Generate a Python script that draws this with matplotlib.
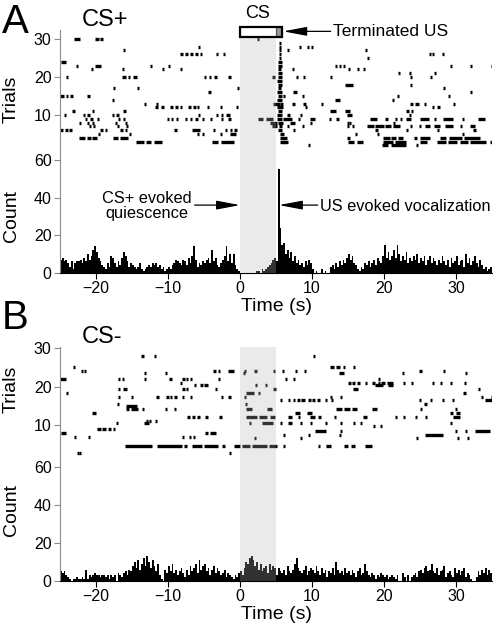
import matplotlib.pyplot as plt
import numpy as np
from matplotlib.patches import Rectangle
from matplotlib.transforms import blended_transform_factory

plt.rcParams['font.family'] = ['Liberation Sans', 'DejaVu Sans']

# histogram: counts in 0.25 s bins from -25 s to 35 s (one row = 5 s)
bin_start = -25.0
bin_width = 0.25
hist_a = [
    7, 8, 6, 7, 5, 3, 6, 2, 5, 6, 6, 7, 5, 8, 6, 10, 7, 9, 12, 14,      # -25..-20
    11, 8, 6, 4, 3, 2, 5, 3, 9, 8, 5, 3, 6, 4, 8, 11, 9, 6, 3, 5,       # -20..-15
    4, 3, 2, 3, 5, 2, 1, 2, 3, 4, 3, 5, 4, 5, 3, 4, 2, 3, 1, 2,         # -15..-10
    3, 2, 4, 5, 7, 6, 5, 4, 7, 6, 4, 8, 5, 9, 14, 7, 3, 5, 4, 6,        # -10..-5
    5, 7, 8, 5, 12, 6, 8, 4, 3, 5, 7, 9, 14, 6, 10, 5, 10, 4, 2, 1,     # -5..0
    0, 0, 0, 0, 0, 0, 0, 0, 0, 1, 1, 0, 2, 1, 2, 3, 4, 5, 7, 8,         # 0..5
    6, 55, 24, 15, 16, 10, 12, 8, 11, 6, 9, 5, 7, 4, 5, 3, 6, 4, 7, 5,  # 5..10
    2, 0, 1, 0, 0, 2, 0, 1, 0, 0, 3, 4, 2, 5, 3, 6, 4, 7, 5, 8,         # 10..15
    10, 7, 9, 5, 4, 2, 1, 3, 2, 5, 4, 6, 3, 5, 7, 4, 8, 6, 5, 9,        # 15..20
    15, 8, 11, 7, 9, 12, 8, 15, 10, 6, 9, 7, 11, 5, 8, 6, 9, 7, 10, 5,  # 20..25
    8, 6, 9, 4, 7, 9, 5, 8, 6, 4, 7, 5, 9, 6, 4, 7, 3, 8, 5, 6,         # 25..30
    9, 4, 6, 7, 3, 10, 5, 8, 4, 6, 9, 5, 3, 7, 4, 2, 3, 1, 2, 3,        # 30..35
]
hist_b = [
    5, 4, 5, 3, 2, 1, 0, 1, 1, 2, 1, 1, 2, 1, 6, 1, 3, 2, 3, 4,         # -25..-20
    3, 3, 2, 3, 3, 2, 3, 1, 3, 2, 3, 0, 4, 3, 2, 4, 5, 3, 6, 5,         # -20..-15
    8, 10, 7, 11, 6, 9, 12, 8, 13, 10, 7, 11, 8, 5, 9, 3, 1, 0, 6, 4,   # -15..-10
    8, 5, 9, 4, 6, 3, 5, 7, 4, 2, 6, 3, 8, 5, 7, 9, 4, 11, 6, 8,        # -10..-5
    9, 5, 7, 3, 6, 8, 4, 7, 5, 3, 4, 6, 2, 4, 3, 2, 1, 3, 2, 4,         # -5..0
    5, 3, 7, 10, 9, 12, 13, 11, 8, 10, 6, 9, 5, 7, 8, 4, 9, 6, 8, 7,    # 0..5
    3, 7, 5, 4, 6, 3, 8, 5, 4, 6, 9, 12, 7, 5, 4, 6, 8, 3, 5, 7,        # 5..10
    6, 4, 8, 5, 3, 7, 4, 6, 2, 5, 4, 7, 3, 10, 6, 4, 5, 3, 7, 4,        # 10..15
    5, 3, 6, 4, 2, 5, 7, 3, 4, 9, 5, 3, 2, 4, 3, 1, 3, 2, 4, 3,         # 15..20
    2, 3, 1, 2, 3, 2, 1, 3, 0, 0, 4, 2, 0, 3, 0, 2, 3, 4, 2, 5,         # 20..25
    6, 4, 7, 8, 5, 6, 9, 5, 4, 7, 3, 5, 6, 8, 2, 4, 5, 3, 2, 7,         # 25..30
    4, 6, 3, 5, 7, 2, 4, 3, 1, 0, 0, 2, 5, 3, 6, 4, 7, 3, 6, 4,         # 30..35
]

# raster events: (trial, start time, end time)
events_a = [
    (30, -23.0, -22.2), (30, -20.1, -19.6), (30, -19.4, -19.0), (30, 2.3, 2.45),
    (28, -5.9, -5.75), (28, 8.2, 8.35), (28, 9.3, 9.45), (28, 9.8, 10.0),
    (27, -16.3, -16.1), (27, 6.5, 6.65), (27, 17.4, 17.6),
    (26, -8.3, -7.9), (26, -7.6, -7.2), (26, -6.9, -6.5), (26, -6.2, -5.8), (26, -5.6, -5.3),
    (26, -3.4, -3.25), (26, -2.3, -2.15), (26, 26.2, 26.5), (26, 26.7, 26.9), (26, 28.0, 28.15),
    (25, 17.6, 17.75),
    (24, -24.8, -24.2),
    (23, -22.8, -22.65), (23, -20.1, -19.3), (23, -12.5, -12.35), (23, -10.0, -9.85),
    (23, 13.2, 13.4), (23, 13.7, 13.9), (23, 14.3, 14.5), (23, 29.2, 29.4), (23, 32.0, 32.15),
    (23, 34.8, 34.95),
    (22, -20.7, -20.4), (22, -16.4, -16.25), (22, -10.9, -10.6), (22, -8.3, -8.0), (22, 7.2, 7.5),
    (22, 15.0, 15.15), (22, 16.2, 16.45), (22, 17.1, 17.25),
    (21, 22.0, 22.15), (21, 23.4, 23.55), (21, 26.9, 27.05),
    (20, -24.2, -23.9), (20, -16.4, -15.9), (20, -15.6, -15.3), (20, -14.8, -14.3),
    (20, -5.0, -4.7), (20, -4.3, -4.0), (20, -3.6, -3.2), (20, -1.6, -1.3), (20, 4.5, 4.9),
    (20, 7.8, 7.95), (20, 8.8, 8.95), (20, 12.5, 12.65), (20, 23.6, 23.75), (20, 26.4, 26.55),
    (18, 14.6, 15.7), (18, 23.6, 23.75),
    (17, -17.7, -17.4), (17, -14.3, -14.15), (17, -0.4, -0.1), (17, 28.2, 28.35),
    (16, -4.4, -4.0), (16, 7.4, 7.9), (16, 32.0, 32.15),
    (15, -25.0, -24.4), (15, -24.2, -23.9), (15, -23.6, -23.2), (15, -21.2, -20.9), (15, 6.0, 6.15),
    (15, 8.6, 8.75), (15, 21.8, 21.95), (15, 28.9, 29.1),
    (14, -17.8, -17.65), (14, 13.2, 13.9), (14, 21.1, 21.4),
    (13, -13.3, -13.15), (13, -11.7, -11.4), (13, 4.6, 5.5), (13, 7.2, 7.6), (13, 8.8, 9.2),
    (13, 11.3, 11.45), (13, 23.6, 24.0), (13, 24.3, 24.8), (13, 25.5, 25.65), (13, 29.6, 29.75),
    (12, -11.8, -11.4), (12, -11.0, -10.6), (12, -9.7, -9.3), (12, -9.0, -8.6), (12, -8.4, -8.1),
    (12, -7.2, -6.8), (12, -6.5, -6.1), (12, -6.0, -5.8), (12, -4.6, -4.4), (12, -2.8, -2.5),
    (12, -0.5, -0.35), (12, 9.0, 9.15), (12, 26.6, 27.0), (12, 27.4, 27.8),
    (11, -23.3, -22.9), (11, -20.5, -20.3), (11, -16.2, -15.9), (11, 12.5, 13.4), (11, 14.6, 15.3),
    (11, 23.1, 23.4), (11, 23.7, 24.0),
    (10, -24.5, -24.3), (10, -21.8, -21.6), (10, -21.3, -20.8), (10, -17.8, -17.5), (10, -17.2, -16.8),
    (10, -5.9, -5.75), (10, -3.3, -3.0), (10, -2.6, -2.3), (10, -1.9, -1.4), (10, 6.5, 6.9),
    (10, 8.3, 8.45), (10, 14.8, 15.5), (10, 23.4, 23.55),
    (9, -21.5, -21.3), (9, -20.8, -20.4), (9, -19.8, -19.6), (9, -17.0, -16.8), (9, -16.3, -16.0),
    (9, -10.2, -9.9), (9, -9.6, -9.3), (9, -8.9, -8.6), (9, -7.6, -7.3), (9, -6.9, -6.6),
    (9, -6.2, -5.9), (9, -5.3, -5.0), (9, -4.2, -3.9), (9, -2.6, -2.3), (9, -1.6, -1.3),
    (9, 2.5, 3.2), (9, 3.6, 4.6), (9, 6.0, 7.2), (9, 8.1, 8.25), (9, 9.7, 10.4), (9, 12.3, 12.45),
    (9, 13.4, 13.55), (9, 18.0, 19.0), (9, 20.1, 20.6), (9, 21.5, 21.65), (9, 22.2, 22.35),
    (9, 23.1, 23.8), (9, 25.0, 26.2), (9, 26.9, 27.05), (9, 28.2, 29.6), (9, 30.8, 30.95),
    (9, 33.1, 34.0),
    (8, -22.3, -22.1), (8, -21.3, -21.1), (8, -20.6, -20.3), (8, -17.4, -17.2), (8, -16.0, -15.8),
    (8, 4.2, 5.1), (8, 6.9, 7.6), (8, 9.7, 9.85), (8, 14.8, 15.0), (8, 15.2, 15.35), (8, 21.3, 21.45),
    (7, -21.0, -20.8), (7, -20.4, -20.2), (7, -17.1, -16.9), (7, -15.9, -15.7), (7, 4.4, 5.1),
    (7, 6.5, 6.65), (7, 8.6, 8.75), (7, 14.8, 15.0), (7, 15.5, 15.65), (7, 17.6, 18.6),
    (7, 18.8, 20.0), (7, 20.2, 21.0), (7, 21.2, 22.2), (7, 23.6, 23.85), (7, 24.8, 24.95),
    (7, 25.7, 26.4), (7, 26.9, 27.8), (7, 28.5, 29.6), (7, 30.6, 30.75), (7, 31.9, 32.6),
    (6, -25.0, -24.6), (6, -24.3, -23.9), (6, -23.7, -23.4), (6, -19.4, -19.0), (6, -18.8, -18.5),
    (6, -16.7, -16.3), (6, -16.0, -15.7), (6, -9.2, -8.8), (6, -6.7, -5.6), (6, -3.7, -3.5),
    (6, -2.1, -1.8), (6, -1.4, -1.1), (6, -0.8, -0.4), (6, 5.3, 5.8), (6, 7.4, 7.55),
    (6, 18.8, 19.2), (6, 23.1, 23.25), (6, 27.3, 27.45), (6, 32.4, 32.8),
    (5, -19.7, -19.4), (5, -15.4, -15.1), (5, -6.0, -5.85), (5, -5.3, -5.0), (5, -2.8, -2.6),
    (5, -1.4, -0.6), (5, 5.8, 5.95), (5, 16.0, 16.15), (5, 19.0, 19.15), (5, 30.8, 30.95),
    (4, -22.4, -21.5), (4, -21.3, -20.7), (4, -20.5, -19.9), (4, -17.7, -16.9), (4, -16.6, -15.6),
    (4, 5.6, 6.5), (4, 14.8, 15.3), (4, 19.9, 20.8), (4, 21.0, 21.6), (4, 22.0, 22.7),
    (4, 24.1, 24.6), (4, 25.0, 26.4), (4, 27.8, 28.6), (4, 29.0, 30.8), (4, 31.1, 33.3),
    (3, -14.4, -13.4), (3, -13.1, -12.3), (3, -12.0, -10.9), (3, -3.9, -3.0), (3, -2.7, -0.9),
    (3, 6.0, 6.7), (3, 15.0, 15.9), (3, 16.3, 17.1), (3, 19.9, 21.2), (3, 21.5, 23.1),
    (3, 25.0, 25.9), (3, 27.3, 28.6), (3, 28.9, 30.2), (3, 30.5, 31.6), (3, 32.0, 34.2),
    (3, 34.7, 34.85),
    (2, 9.5, 9.65), (2, 19.7, 20.6), (2, 21.0, 23.1), (2, 24.5, 24.65),
    # vocal response right after the US
    (29, 5.4, 5.6), (28, 5.45, 5.6), (27, 5.4, 5.65), (26, 5.4, 5.7), (25, 5.35, 5.7),
    (24, 5.3, 5.8), (23, 5.3, 5.8), (22, 5.3, 5.7), (21, 5.3, 5.8), (20, 5.3, 5.9),
    (19, 5.2, 5.9), (18, 5.3, 5.8), (17, 5.25, 5.75), (16, 5.2, 5.8), (15, 5.3, 5.9),
    (14, 5.2, 5.9), (13, 5.6, 6.0), (12, 5.2, 6.0), (11, 5.3, 5.8), (10, 5.2, 5.9),
    (9, 5.2, 5.8), (8, 5.3, 6.0), (7, 5.4, 5.9), (5, 5.5, 6.0), (3, 5.6, 6.2),
]

events_b = [
    (28, -13.8, -13.4), (28, -11.9, -11.75), (28, 10.2, 10.35),
    (25, -23.2, -23.05), (25, 12.5, 13.0), (25, 13.4, 13.9), (25, 14.3, 14.45), (25, 15.7, 15.85),
    (24, -22.1, -21.95), (24, -21.7, -21.55), (24, -3.7, -3.3), (24, -3.1, -2.8), (24, -1.7, -0.9),
    (24, 0.6, 0.75), (24, 1.9, 2.3), (24, 4.6, 4.75), (24, 5.8, 6.1), (24, 7.6, 7.8),
    (24, 8.9, 9.05), (24, 24.9, 25.3), (24, 28.2, 28.35),
    (23.4, -13.4, -13.25), (23.4, -10.4, -10.2), (23.4, 0.4, 0.55), (23.4, 13.7, 14.4),
    (23.4, 22.5, 22.65), (23.4, 31.3, 31.45),
    (22, -25.0, -24.2), (22, -16.9, -16.75), (22, -16.4, -16.25), (22, -13.4, -13.1),
    (22, -9.8, -9.5), (22, -8.0, -7.7), (22, -7.5, -7.3), (22, -6.9, -6.6), (22, -3.0, -2.85),
    (22, 6.2, 6.5), (22, 7.4, 7.55), (22, 19.2, 19.35),
    (21, -8.3, -8.15), (21, 15.0, 15.4), (21, 15.6, 16.0), (21, 16.3, 16.7), (21, 17.4, 17.55),
    (21, 18.3, 18.7), (21, 19.1, 19.3), (21, 19.6, 20.1), (21, 20.4, 21.3), (21, 22.7, 22.85),
    (21, 23.8, 23.95), (21, 26.6, 26.75), (21, 27.8, 27.95), (21, 29.2, 29.35), (21, 31.1, 31.25),
    (20.3, -6.4, -6.1), (20.3, -5.5, -5.2), (20.3, -5.0, -4.5), (20.3, 2.1, 2.25), (20.3, 3.5, 3.65),
    (20.3, 18.8, 19.9), (20.3, 20.6, 21.3),
    (19.3, -16.9, -16.6), (19.3, -16.2, -15.7), (19.3, -8.0, -7.7), (19.3, -7.5, -7.3),
    (19.3, -3.5, -3.35), (19.3, 4.6, 5.0), (19.3, 15.7, 16.4), (19.3, 33.1, 33.25),
    (18.2, -24.2, -23.9), (18.2, 0.9, 1.9), (18.2, 2.5, 2.65), (18.2, 31.0, 31.4),
    (17.2, -16.9, -16.75), (17.2, -15.2, -15.0), (17.2, -11.6, -11.3), (17.2, -10.3, -9.9),
    (17.2, -9.7, -9.4), (17.2, -9.1, -8.7), (17.2, -8.0, -7.85), (17.2, -6.9, -6.75),
    (17.2, -2.6, -2.3), (17.2, -1.6, -1.4), (17.2, 0.5, 0.65), (17.2, 12.5, 12.65),
    (17.2, 13.9, 14.05), (17.2, 33.4, 33.8), (17.2, 34.8, 34.95),
    (16.4, 5.5, 5.65), (16.4, 6.7, 7.0), (16.4, 7.4, 7.7), (16.4, 7.9, 8.3), (16.4, 8.5, 9.0),
    (16.4, 9.5, 9.8), (16.4, 10.0, 10.4), (16.4, 10.7, 11.1), (16.4, 11.8, 11.95),
    (16.4, 12.7, 12.85), (16.4, 24.8, 25.2), (16.4, 26.4, 26.55), (16.4, 28.0, 28.15),
    (16.4, 29.4, 29.55), (16.4, 34.0, 35.0),
    (15.5, -17.1, -16.95), (15.5, 0.7, 0.85), (15.5, 25.5, 25.9),
    (15, -15.9, -14.3),
    (14.2, -15.9, -15.4), (14.2, -15.2, -14.1), (14.2, -13.6, -13.3), (14.2, -10.4, -10.1),
    (14.2, -9.2, -9.05), (14.2, 0.9, 1.6), (14.2, 3.7, 4.4), (14.2, 13.4, 14.2), (14.2, 14.5, 15.3),
    (14.2, 15.6, 16.2), (14.2, 18.3, 19.0), (14.2, 25.0, 25.15), (14.2, 29.9, 30.05),
    (13, -20.5, -20.0), (13, 7.6, 8.3), (13, 9.3, 10.0), (13, 29.2, 29.6), (13, 30.0, 30.6),
    (12, -7.4, -6.9), (12, -6.6, -6.3), (12, -6.0, -5.6), (12, -4.8, -4.4), (12, -2.9, -2.5),
    (12, 0.9, 2.3), (12, 2.6, 3.8), (12, 4.1, 4.9), (12, 6.7, 7.2), (12, 8.1, 8.25),
    (12, 9.7, 10.4), (12, 10.9, 11.05), (12, 13.0, 13.15), (12, 17.1, 17.6), (12, 21.5, 21.65),
    (12, 22.7, 22.85), (12, 24.3, 24.45), (12, 25.7, 25.85), (12, 29.6, 30.6),
    (11, -13.1, -12.9), (11, -12.7, -12.3), (11, -11.8, -11.6),
    (10.5, -17.2, -17.05), (10.5, -13.4, -12.6), (10.5, 1.2, 1.4), (10.5, 3.0, 4.6),
    (10.5, 5.6, 5.75), (10.5, 6.7, 7.2), (10.5, 8.3, 8.45), (10.5, 9.7, 9.85), (10.5, 11.8, 11.95),
    (10.5, 13.9, 14.05), (10.5, 15.7, 15.85), (10.5, 16.7, 16.85), (10.5, 29.2, 29.35),
    (9.7, 18.5, 18.65), (9.7, 19.4, 19.55),
    (9, -19.8, -19.3), (9, -19.1, -18.6), (9, -18.4, -17.9), (9, -17.7, -17.5),
    (8.5, 10.4, 12.0), (8.5, 13.9, 14.05), (8.5, 29.9, 30.05), (8.5, 31.3, 31.45), (8.5, 32.6, 34.7),
    (8, -24.8, -24.2), (8, -4.8, -4.4), (8, -4.1, -3.4),
    (7.4, 6.0, 6.2), (7.4, 9.5, 9.65), (7.4, 13.7, 13.85), (7.4, 25.7, 28.2),
    (7, -23.1, -22.95), (7, -21.1, -20.95), (7, -8.1, -7.95), (7, -7.1, -6.9), (7, -6.5, -6.35),
    (6.6, 1.9, 2.05), (6.6, 8.3, 8.45), (6.6, 24.5, 24.65), (6.6, 30.1, 30.25), (6.6, 31.5, 31.65),
    (4.5, -15.97, -12.27), (4.5, -11.57, -8.1), (4.5, -7.8, -7.4), (4.5, -6.7, -5.3),
    (4.5, -5.0, -3.0), (4.5, -2.5, -2.1), (4.5, -0.9, 0.0), (4.5, 0.3, 1.4), (4.5, 1.7, 3.8),
    (4.5, 4.0, 5.1), (4.5, 6.0, 6.3), (4.5, 10.8, 11.0), (4.5, 12.0, 12.7), (4.5, 14.4, 15.0),
    (4.5, 15.4, 16.0), (4.5, 17.4, 18.3),
    (2.8, -22.6, -22.45), (2.8, -22.3, -22.15), (2.8, -1.5, -1.35),
]

cs_on, cs_off, us_off = 0.0, 5.0, 5.9
xticks = [-20, -10, 0, 10, 20, 30]

fig = plt.figure(figsize=(4.98, 6.3), dpi=100)
left, width = 0.1205, 0.8675
ax_ra = fig.add_axes([left, 0.746, width, 0.2063])
ax_ca = fig.add_axes([left, 0.5671, width, 0.1789])
ax_rb = fig.add_axes([left, 0.2587, width, 0.1905])
ax_cb = fig.add_axes([left, 0.0778, width, 0.181])

spine_grey = '0.55'


def style_raster(ax, events, ylim, shade_top, label_y):
    ev = np.array(events)
    # a single event is drawn at least as wide as one raster tick
    ends = np.maximum(ev[:, 2], ev[:, 1] + 0.28)
    ax.hlines(ev[:, 0], ev[:, 1], ends, colors='black', linewidth=2.4, zorder=2)
    ax.set_xlim(-25, 35)
    ax.set_ylim(*ylim)
    for s in ['top', 'right', 'bottom']:
        ax.spines[s].set_visible(False)
    ax.spines['left'].set_color(spine_grey)
    ax.set_xticks([])
    ax.set_yticks([10, 20, 30])
    ax.tick_params(axis='y', direction='out', length=4, color=spine_grey, labelsize=11.5, pad=2)
    ax.set_ylabel('Trials', fontsize=14)
    ax.yaxis.set_label_coords(-0.093, label_y)
    ax.axvspan(cs_on, cs_off, ymax=shade_top, facecolor='0.71', alpha=0.28, lw=0, zorder=3)


def style_count(ax, counts, label_y):
    edges = bin_start + bin_width * np.arange(len(counts) + 1)
    ax.stairs(counts, edges, fill=True, color='black', lw=0, zorder=2)
    ax.set_xlim(-25, 35)
    ax.set_ylim(0, 60)
    ax.spines['top'].set_visible(False)
    ax.spines['right'].set_visible(False)
    ax.spines['left'].set_color(spine_grey)
    ax.set_yticks([0, 20, 40, 60])
    ax.set_xticks(xticks)
    ax.tick_params(axis='y', direction='out', length=4, color=spine_grey, labelsize=11.5, pad=2)
    ax.tick_params(axis='x', direction='out', length=4, labelsize=11.5, pad=2)
    ax.set_ylabel('Count', fontsize=14)
    ax.yaxis.set_label_coords(-0.093, label_y)
    ax.set_xlabel('Time (s)', fontsize=14)
    ax.xaxis.set_label_coords(0.5, -0.22)
    ax.axvspan(cs_on, cs_off, facecolor='0.71', alpha=0.28, lw=0, zorder=3)


style_raster(ax_ra, events_a, (-1.84, 32.37), 0.946, 0.47)
style_count(ax_ca, hist_a, 0.5)
style_raster(ax_rb, events_b, (-0.91, 30.26), 1.0, 0.65)
style_count(ax_cb, hist_b, 0.62)

# CS / US bar above raster A
tr = blended_transform_factory(ax_ra.transData, ax_ra.transAxes)
ax_ra.add_patch(Rectangle((cs_on, 0.948), cs_off - cs_on, 0.077, transform=tr,
                          facecolor='white', edgecolor='none', clip_on=False, zorder=4))
ax_ra.add_patch(Rectangle((cs_off, 0.948), us_off - cs_off, 0.077, transform=tr,
                          facecolor='0.6', edgecolor='0.3', lw=0.8, clip_on=False, zorder=4))
ax_ra.add_patch(Rectangle((cs_on, 0.948), us_off - cs_on, 0.077, transform=tr,
                          facecolor='none', edgecolor='black', lw=1.6, clip_on=False, zorder=5))
ax_ra.text(2.4, 1.13, 'CS', transform=tr, ha='center', va='center', fontsize=13)
arrow = dict(arrowstyle='-|>,head_length=0.9,head_width=0.17', color='black', lw=0.9,
             mutation_scale=16, shrinkA=0, shrinkB=0)
ax_ra.annotate('', xy=(us_off + 0.1, 0.99), xytext=(12.6, 0.99), xycoords=tr, textcoords=tr,
               arrowprops=arrow, annotation_clip=False)
ax_ra.text(12.9, 0.99, 'Terminated US', transform=tr, ha='left', va='center', fontsize=12.5)

# annotations on histogram A
ax_ca.annotate('', xy=(0, 36), xytext=(-6.3, 36), arrowprops=arrow)
ax_ca.text(-12.9, 35.5, 'CS+ evoked\nquiescence', ha='center', va='center', fontsize=11.8,
           linespacing=1.05)
ax_ca.annotate('', xy=(5.4, 36), xytext=(10.8, 36), arrowprops=arrow)
ax_ca.text(11.1, 35.5, 'US evoked vocalization', ha='left', va='center', fontsize=11.8)

# panel letters and titles
fig.text(0.004, 1 - 22 / 630, 'A', fontsize=29, va='center', ha='left')
fig.text(82 / 498, 1 - 20 / 630, 'CS+', fontsize=17, va='center', ha='left')
fig.text(0.004, 1 - 318 / 630, 'B', fontsize=29, va='center', ha='left')
fig.text(82 / 498, 1 - 337 / 630, 'CS-', fontsize=17, va='center', ha='left')

fig.savefig('out.png', dpi=100)
